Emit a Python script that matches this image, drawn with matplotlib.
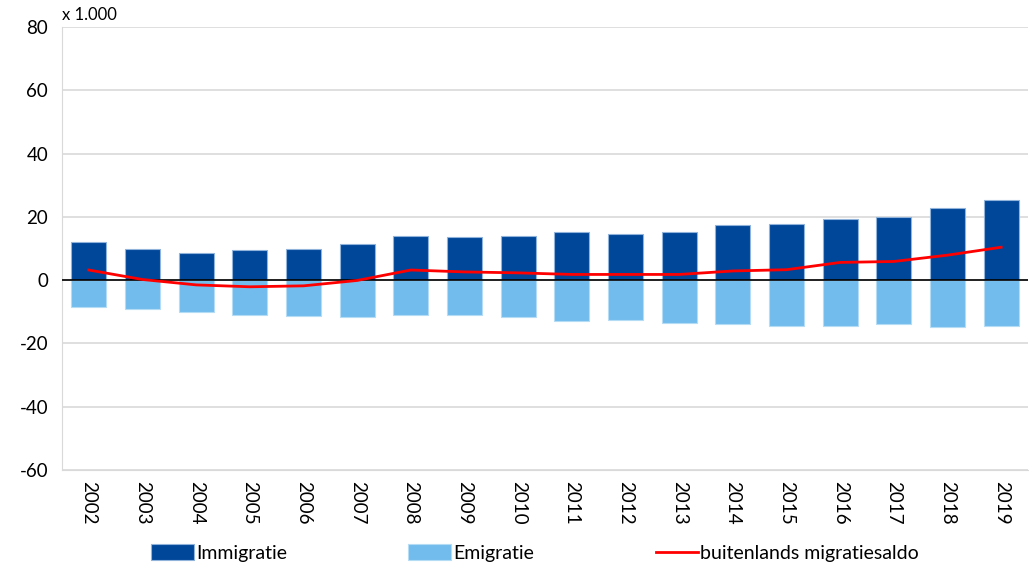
import matplotlib.pyplot as plt
import numpy as np

years = [str(y) for y in range(2002, 2020)]
immigratie = [12.0, 9.8, 8.7, 9.5, 9.8, 11.5, 14.0, 13.6, 14.0, 15.1, 14.7, 15.1,
              17.3, 17.9, 19.4, 19.8, 22.7, 25.2]
emigratie = [-8.5, -9.2, -10.1, -11.1, -11.4, -11.6, -10.9, -10.9, -11.6, -13.0,
             -12.6, -13.4, -14.0, -14.4, -14.4, -14.0, -14.7, -14.4]
saldo = [3.2, 0.2, -1.5, -2.1, -1.8, -0.1, 3.2, 2.6, 2.3, 1.8, 1.8, 1.8,
         2.9, 3.3, 5.6, 5.9, 7.9, 10.4]

plt.rcParams['font.family'] = ['Lato', 'DejaVu Sans']

fig = plt.figure(figsize=(10.29, 5.72), dpi=100)
ax = fig.add_axes([62/1029, 102/572, 966/1029, 443/572])

x = np.arange(len(years))
b1 = ax.bar(x, immigratie, width=0.65, color='#00479A', edgecolor='#8FB3DA',
            linewidth=0.8, label='Immigratie', zorder=3)
b2 = ax.bar(x, emigratie, width=0.65, color='#71BCEC', edgecolor='#B5DCF5',
            linewidth=0.8, label='Emigratie', zorder=3)
ax.axhline(0, color='black', linewidth=1.2, zorder=4)
ln, = ax.plot(x, saldo, color='#FF0000', linewidth=2,
              label='buitenlands migratiesaldo', zorder=5)

ax.set_xlim(-0.5, len(years) - 0.5)
ax.set_ylim(-60, 80)
ax.set_yticks(range(-60, 81, 20))
ax.set_yticklabels([str(v) for v in range(-60, 81, 20)], fontsize=13.5)
ax.set_xticks(x)
ax.set_xticklabels(years, rotation=-90, fontsize=13.5)
ax.tick_params(length=0)
ax.tick_params(axis='y', pad=10)
ax.tick_params(axis='x', pad=8)
ax.grid(axis='y', color='#D9D9D9', linewidth=1.2, zorder=0)
for s in ['top', 'right']:
    ax.spines[s].set_visible(False)
ax.spines['left'].set_color('#D9D9D9')
ax.spines['bottom'].set_color('#D9D9D9')

fig.text(62/1029, 1 - 15/572, 'x 1.000', fontsize=12, va='center', ha='left')

fig.legend([b1, b2, ln], ['Immigratie', 'Emigratie', 'buitenlands migratiesaldo'],
           loc='center', bbox_to_anchor=(0.52, 1 - 553/572), ncol=3,
           frameon=False, fontsize=14, handlelength=2.2, handleheight=0.9,
           columnspacing=6.25, handletextpad=0.1)

fig.savefig('out.png', dpi=100)
